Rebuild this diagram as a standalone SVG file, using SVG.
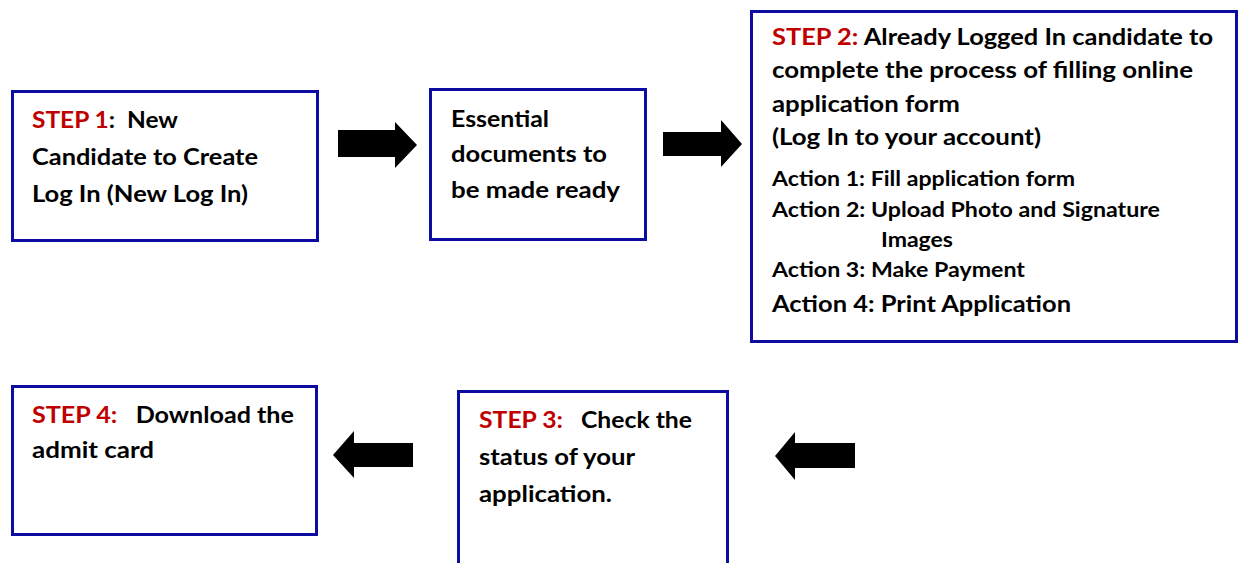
<svg xmlns="http://www.w3.org/2000/svg" width="1241" height="563" viewBox="0 0 1241 563">
<style>
.box{fill:#fff;stroke:#0C0CA0;stroke-width:3}
.t{font-family:Lato,"Open Sans","Liberation Sans",sans-serif;font-weight:bold;fill:#000;font-size:22px;white-space:pre}
.t2{font-size:23px}
.a{font-size:20.5px}
.r{fill:#C00000}
.arr{fill:#000}
</style>
<rect width="1241" height="563" fill="#fff"/>
<g id="step1">
<rect class="box" x="12.5" y="91.5" width="305" height="149"/>
<text class="t" x="32" y="128" textLength="146" lengthAdjust="spacingAndGlyphs" xml:space="preserve"><tspan class="r">STEP 1</tspan>:  New</text>
<text class="t" x="32" y="165" textLength="226" lengthAdjust="spacingAndGlyphs">Candidate to Create</text>
<text class="t" x="32" y="202" textLength="216" lengthAdjust="spacingAndGlyphs">Log In (New Log In)</text>
</g>
<g id="docs">
<rect class="box" x="430.5" y="89.5" width="215" height="150"/>
<text class="t" x="451" y="127" textLength="98" lengthAdjust="spacingAndGlyphs">Essential</text>
<text class="t" x="451" y="162" textLength="156" lengthAdjust="spacingAndGlyphs">documents to</text>
<text class="t" x="451" y="198" textLength="169" lengthAdjust="spacingAndGlyphs">be made ready</text>
</g>
<g id="step2">
<rect class="box" x="751.5" y="11.5" width="485" height="330"/>
<text class="t t2" x="772" y="45" textLength="441" lengthAdjust="spacingAndGlyphs"><tspan class="r">STEP 2:</tspan> Already Logged In candidate to</text>
<text class="t t2" x="772" y="78" textLength="421" lengthAdjust="spacingAndGlyphs">complete the process of filling online</text>
<text class="t t2" x="772" y="112" textLength="188" lengthAdjust="spacingAndGlyphs">application form</text>
<text class="t t2" x="772" y="145" textLength="269" lengthAdjust="spacingAndGlyphs">(Log In to your account)</text>
<text class="t a" x="772" y="186" textLength="303" lengthAdjust="spacingAndGlyphs">Action 1: Fill application form</text>
<text class="t a" x="772" y="217" textLength="388" lengthAdjust="spacingAndGlyphs">Action 2: Upload Photo and Signature</text>
<text class="t a" x="881" y="247" textLength="72" lengthAdjust="spacingAndGlyphs">Images</text>
<text class="t a" x="772" y="277" textLength="253" lengthAdjust="spacingAndGlyphs">Action 3: Make Payment</text>
<text class="t t2" x="772" y="312" textLength="299" lengthAdjust="spacingAndGlyphs">Action 4: Print Application</text>
</g>
<g id="step4">
<rect class="box" x="12.5" y="386.5" width="304" height="148"/>
<text class="t" x="32" y="423" textLength="262" lengthAdjust="spacingAndGlyphs" xml:space="preserve"><tspan class="r">STEP 4:</tspan>   Download the</text>
<text class="t" x="32" y="458" textLength="122" lengthAdjust="spacingAndGlyphs">admit card</text>
</g>
<g id="step3">
<rect class="box" x="458.5" y="391.5" width="269" height="185"/>
<text class="t" x="479" y="428" textLength="213" lengthAdjust="spacingAndGlyphs" xml:space="preserve"><tspan class="r">STEP 3:</tspan>   Check the</text>
<text class="t" x="479" y="465" textLength="156" lengthAdjust="spacingAndGlyphs">status of your</text>
<text class="t" x="479" y="502" textLength="133" lengthAdjust="spacingAndGlyphs">application.</text>
</g>
<g id="connectors">
<polygon class="arr" points="338,130 395,130 395,122 417,145 395,168 395,157 338,157"/>
<polygon class="arr" points="663,132 721,132 721,120 742,144 721,167 721,156 663,156"/>
<polygon class="arr" points="855,443 795,443 795,432 775,456 795,480 795,468 855,468"/>
<polygon class="arr" points="413,443 354,443 354,431 333,455 354,478 354,467 413,467"/>
</g>
</svg>
